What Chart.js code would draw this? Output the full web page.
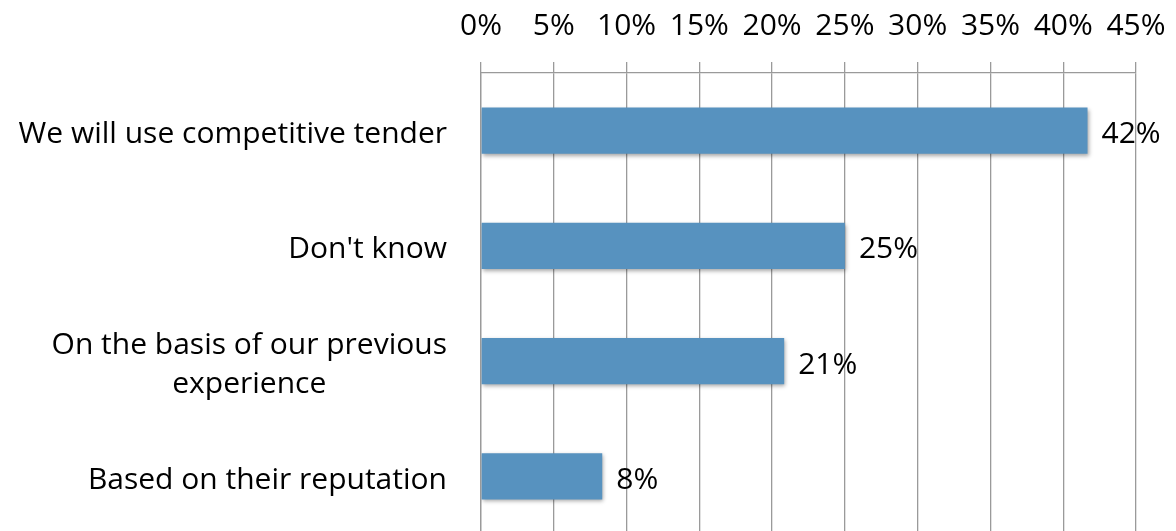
<!DOCTYPE html>
<html>
<head>
<meta charset="utf-8">
<script src="https://cdn.jsdelivr.net/npm/chart.js@4.4.0/dist/chart.umd.min.js"></script>
<style>
  html, body { margin: 0; padding: 0; background: #fff; overflow: hidden; }
  #wrap { width: 1176px; height: 534px; position: relative; }
</style>
</head>
<body>
<div id="wrap"><canvas id="chart"></canvas></div>
<script>
// categories, values (share of 24 answers), labels shown next to the bars
const categories = [
    ['We will use competitive tender'],
    ["Don't know"],
    ['On the basis of our previous', 'experience'],
    ['Based on their reputation']
];
const values = [41.67, 25.0, 20.83, 8.33];
const valueLabels = ['42%', '25%', '21%', '8%'];
const xTicks = [0, 5, 10, 15, 20, 25, 30, 35, 40, 45];

const FONT = "'Open Sans', sans-serif";
const FONT_SIZE = 30;

// soft drop shadow under the bars
const barShadow = {
    id: 'barShadow',
    beforeDatasetsDraw(chart) {
        const ctx = chart.ctx;
        ctx.save();
        ctx.shadowColor = 'rgba(0, 0, 0, 0.35)';
        ctx.shadowBlur = 4;
        ctx.shadowOffsetX = 1;
        ctx.shadowOffsetY = 2;
    },
    afterDatasetsDraw(chart) {
        chart.ctx.restore();
    }
};

// category labels (right aligned, multi-line block centered) and value labels
const labelsPlugin = {
    id: 'labelsPlugin',
    afterDraw(chart) {
        const ctx = chart.ctx;
        const yScale = chart.scales.y;
        const meta = chart.getDatasetMeta(0);
        ctx.save();
        ctx.font = FONT_SIZE + 'px ' + FONT;
        ctx.fillStyle = '#000';
        ctx.textBaseline = 'middle';
        const right = yScale.right - 34;
        const lineH = 39;
        const dy = 4;
        categories.forEach((lines, i) => {
            const y = yScale.getPixelForValue(i) + dy;
            if (lines.length === 1) {
                ctx.textAlign = 'right';
                ctx.fillText(lines[0], right, y);
            } else {
                const widths = lines.map(l => ctx.measureText(l).width);
                const cx = right - Math.max(...widths) / 2;
                ctx.textAlign = 'center';
                lines.forEach((l, k) => {
                    ctx.fillText(l, cx, y + (k - (lines.length - 1) / 2) * lineH);
                });
            }
        });
        ctx.textAlign = 'left';
        meta.data.forEach((bar, i) => {
            ctx.fillText(valueLabels[i], bar.x + 14, bar.y + dy);
        });
        ctx.restore();
    }
};

new Chart(document.getElementById('chart'), {
    type: 'bar',
    data: {
        labels: categories,
        datasets: [{
            data: values,
            backgroundColor: '#5792bf',
            borderWidth: 0,
            categoryPercentage: 1,
            barPercentage: 0.4
        }]
    },
    options: {
        indexAxis: 'y',
        responsive: true,
        maintainAspectRatio: false,
        animation: false,
        layout: { padding: { top: 0, right: 40, bottom: 0, left: 0 } },
        plugins: {
            legend: { display: false },
            tooltip: { enabled: false }
        },
        scales: {
            x: {
                position: 'top',
                min: 0,
                max: 45,
                afterBuildTicks(scale) {
                    scale.ticks = xTicks.map(v => ({ value: v }));
                },
                afterFit(scale) {
                    scale.height = 73;
                    scale.paddingLeft = 0;
                    scale.paddingRight = 0;
                },
                ticks: {
                    color: '#000',
                    padding: 18,
                    maxRotation: 0,
                    font: { family: FONT, size: FONT_SIZE },
                    callback: v => v + '%'
                },
                grid: {
                    color: '#9a9a9a',
                    lineWidth: 1.3,
                    tickLength: 11
                },
                border: { display: true, color: '#9a9a9a', width: 1.3 }
            },
            y: {
                afterFit(scale) { scale.width = 481; },
                ticks: { display: false },
                grid: { display: false },
                border: { display: true, color: '#9a9a9a', width: 1.3 }
            }
        }
    },
    plugins: [barShadow, labelsPlugin]
});
</script>
</body>
</html>
